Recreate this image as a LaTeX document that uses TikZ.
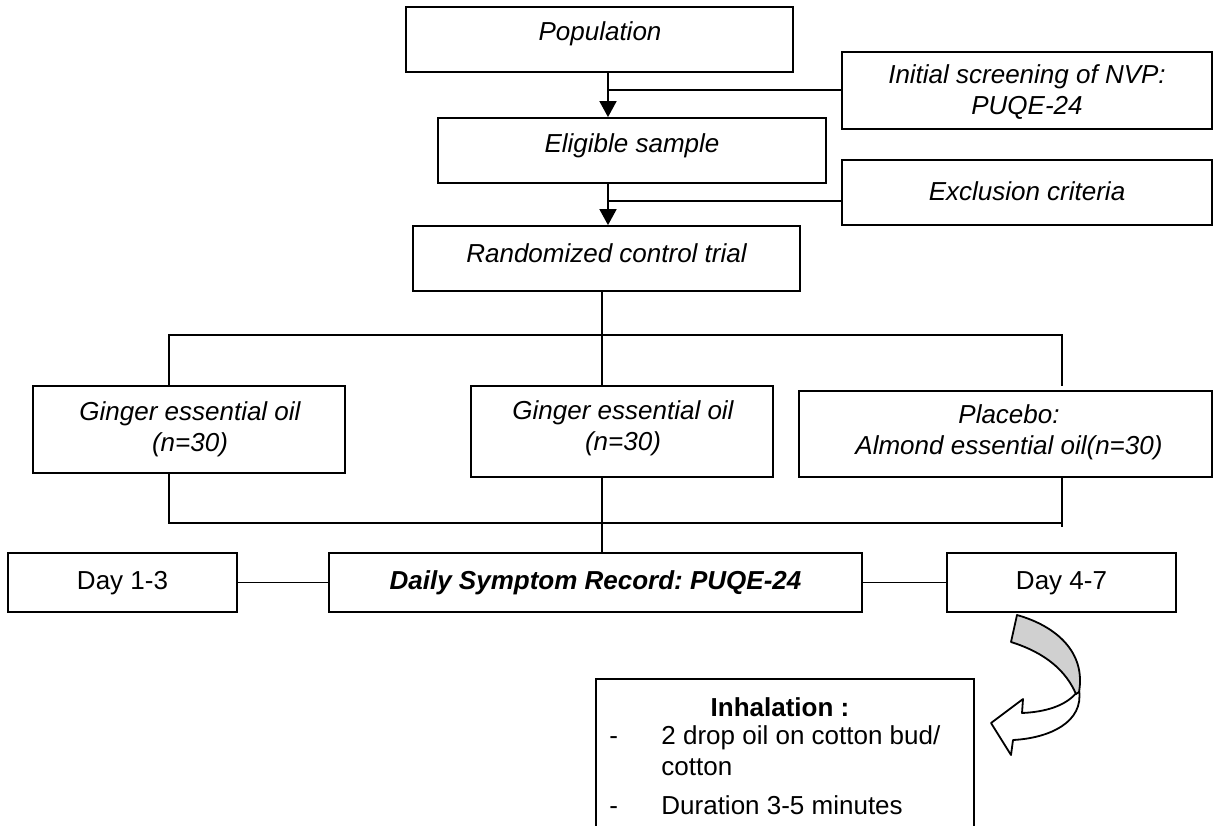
\documentclass[tikz,border=0pt]{standalone}
\usepackage{fontspec}
\setmainfont{Liberation Sans}
\usetikzlibrary{arrows.meta}
\frenchspacing
\begin{document}
\begin{tikzpicture}[x=0.5pt,y=-0.5pt,
  box/.style={draw, line width=0.9pt, inner sep=0pt},
  txt/.style={inner sep=0pt, align=center, font=\fontsize{13}{15.5}\selectfont\itshape},
  plain/.style={inner sep=0pt, align=left, font=\fontsize{13}{15.5}\selectfont},
  conn/.style={line width=0.9pt},
  arr/.style={line width=0.9pt, -{Triangle[length=8pt,width=8.5pt]}}]
\useasboundingbox (0,0) rectangle (1214,825);
% boxes
\node[box, minimum width=193.5pt, minimum height=32.5pt] (pop) at (599.5,39.5) {};
\node[txt] (popt) at (600,34) {Population};
\node[box, minimum width=185pt, minimum height=38.5pt] (scr) at (1027,90.5) {};
\node[txt] (scrt) at (1027,92) {Initial screening of NVP:\\PUQE-24};
\node[box, minimum width=194pt, minimum height=32.5pt] (elig) at (632,150.5) {};
\node[txt] (eligt) at (632,146) {Eligible sample};
\node[box, minimum width=185pt, minimum height=32.5pt] (exc) at (1027,192.5) {};
\node[txt] (exct) at (1027,191) {Exclusion criteria};
\node[box, minimum width=193.5pt, minimum height=32.5pt] (rct) at (606.5,258.5) {};
\node[txt] (rctt) at (606.5,253) {Randomized control trial};
\node[box, minimum width=156pt, minimum height=43.5pt] (g1) at (189,429.5) {};
\node[txt] (g1t) at (190,429) {Ginger essential oil\\(n=30)};
\node[box, minimum width=151pt, minimum height=45.5pt] (g2) at (622,431.5) {};
\node[txt] (g2t) at (623,428) {Ginger essential oil\\(n=30)};
\node[box, minimum width=206.5pt, minimum height=43pt] (pla) at (1005.5,434) {};
\node[txt] (plat) at (1009,432) {Placebo:\\Almond essential oil(n=30)};
\node[box, minimum width=114.5pt, minimum height=29.5pt] (d13) at (122.5,582.5) {};
\node[plain] (d13t) at (122.5,583) {Day 1-3};
\node[box, minimum width=266.5pt, minimum height=29.5pt] (daily) at (595.5,582.5) {};
\node[txt, font=\fontsize{13}{15.5}\selectfont\bfseries\itshape] (dailyt) at (595.5,583) {Daily Symptom Record: PUQE-24};
\node[box, minimum width=114.5pt, minimum height=29.5pt] (d47) at (1061.5,582.5) {};
\node[plain] (d47t) at (1061.5,583) {Day 4-7};
% top arrows
\coordinate (a1) at (608,0);
\draw[arr] (a1 |- pop.south) -- (a1 |- elig.north);
\draw[conn] (a1 |- 0,90) -- (scr.west |- 0,90);
\draw[arr] (a1 |- elig.south) -- (a1 |- rct.north);
\draw[conn] (a1 |- 0,201) -- (exc.west |- 0,201);
% tree
\coordinate (tL) at (169,335);
\coordinate (tM) at (602,335);
\coordinate (tR) at (1062,335);
\coordinate (tRe) at (1062,386);
\coordinate (bL) at (169,523);
\coordinate (bM) at (602,523);
\coordinate (bR) at (1062,523);
\coordinate (bRe) at (1062,527);
\draw[conn] (tM |- rct.south) -- (tM);
\draw[conn] (tL |- g1.north) -- (tL) -- (tR) -- (tRe);
\draw[conn] (tM) -- (tM |- g2.north);
\draw[conn] (tL |- g1.south) -- (bL) -- (bR);
\draw[conn] (bR |- pla.south) -- (bRe);
\draw[conn] (bM |- g2.south) -- (bM |- daily.north);
\draw[conn] (d13.east) -- (daily.west);
\draw[conn] (daily.east) -- (d47.west);
% inhalation box (open at bottom)
\coordinate (ibl) at (596,826);
\coordinate (itl) at (596,679);
\coordinate (itr) at (974,679);
\coordinate (ibr) at (974,826);
\draw[conn] (ibl) -- (itl) -- (itr) -- (ibr);
\node[plain, font=\fontsize{13}{15.5}\selectfont\bfseries] (inh) at (780,707) {Inhalation :};
\node[plain, anchor=base west] (dash1) at (609,744) {-};
\node[plain, anchor=base west] (it1) at (661,744) {2 drop oil on cotton bud/};
\node[plain, anchor=base west] (it1b) at (661,775) {cotton};
\node[plain, anchor=base west] (dash2) at (609,814) {-};
\node[plain, anchor=base west] (it2) at (661,814) {Duration 3-5 minutes};
% curved arrow
\draw[line width=0.9pt, fill=white, line join=round]
  (1077,692) .. controls (1066,706) and (1045,712) .. (1022,713)
  -- (1023,699) -- (991,723) -- (1011,755) -- (1013,740)
  .. controls (1050,738) and (1084,722) .. (1079,690) -- cycle;
\draw[line width=0.9pt, fill={rgb,255:red,208;green,208;blue,208}, line join=round]
  (1017,615) .. controls (1056,626) and (1086,652) .. (1079,692)
  -- (1076,694) .. controls (1066,671) and (1046,653) .. (1011,642) -- cycle;
\end{tikzpicture}
\end{document}
